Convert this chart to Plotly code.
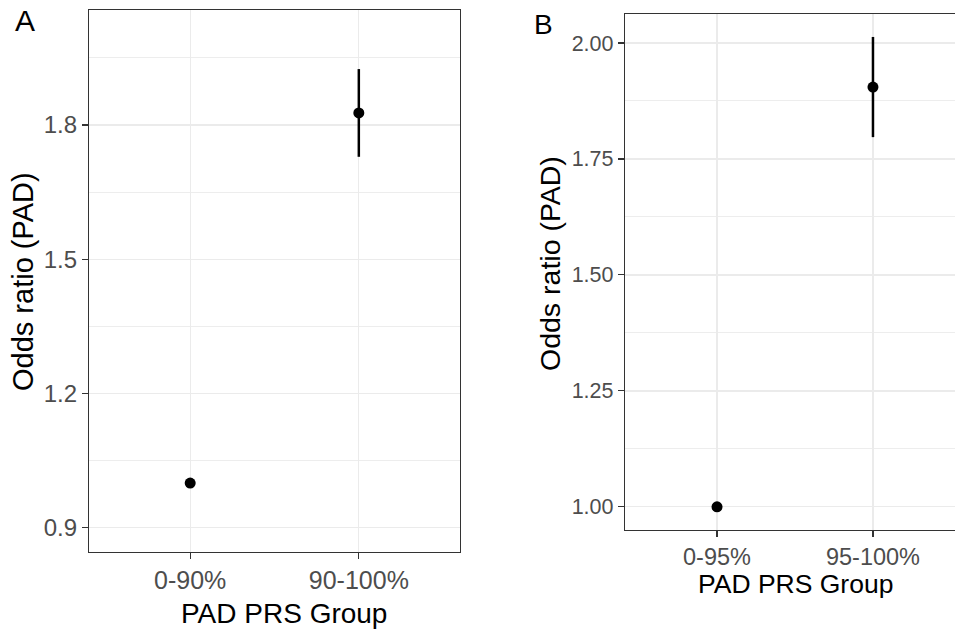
import plotly.graph_objects as go

# Panel A data
a_groups = ["0-90%", "90-100%"]
a_or = [1.0, 1.827]
a_lo = [1.0, 1.729]
a_hi = [1.0, 1.925]
a_yticks = [0.9, 1.2, 1.5, 1.8]

# Panel B data
b_groups = ["0-95%", "95-100%"]
b_or = [1.0, 1.905]
b_lo = [1.0, 1.797]
b_hi = [1.0, 2.013]
b_yticks = [1.00, 1.25, 1.50, 1.75, 2.00]

OFF = 0  # body margin removed via post_script
W, H = 955 - OFF, 632 - OFF
FONT = "Liberation Sans, Arial, Helvetica, sans-serif"
GRID = "#EBEBEB"
AXC = "#333333"
TICKC = "#4D4D4D"


def fx(x):
    return (x - OFF) / W


def fy(y):
    return 1 - (y - OFF) / H


fig = go.Figure()

fig.add_trace(go.Scatter(
    x=a_groups, y=a_or, mode="markers",
    marker=dict(color="black", size=11),
    error_y=dict(type="data", symmetric=False,
                 array=[h - o for h, o in zip(a_hi, a_or)],
                 arrayminus=[o - l for o, l in zip(a_or, a_lo)],
                 color="black", thickness=2.5, width=0),
    xaxis="x", yaxis="y", showlegend=False, hoverinfo="skip"))

fig.add_trace(go.Scatter(
    x=b_groups, y=b_or, mode="markers",
    marker=dict(color="black", size=11),
    error_y=dict(type="data", symmetric=False,
                 array=[h - o for h, o in zip(b_hi, b_or)],
                 arrayminus=[o - l for o, l in zip(b_or, b_lo)],
                 color="black", thickness=2.5, width=0),
    xaxis="x2", yaxis="y2", showlegend=False, hoverinfo="skip"))

common_x = dict(type="category", showgrid=True, gridcolor=GRID, gridwidth=1.3,
                ticks="outside", ticklen=6, tickcolor=AXC, tickwidth=1.2,
                showline=True, linecolor=AXC, linewidth=1.2, mirror=True,
                zeroline=False, fixedrange=True)

fig.update_layout(
    width=W, height=H,
    margin=dict(l=0, r=0, t=0, b=0),
    paper_bgcolor="white", plot_bgcolor="white",
    font=dict(family=FONT, color="black"),
    xaxis=dict(**common_x, domain=[fx(89), fx(460)], range=[-0.6, 1.6],
               anchor="y", tickfont=dict(size=25, color=TICKC)),
    yaxis=dict(domain=[fy(552), fy(10)], range=[0.846, 2.057],
               anchor="x", tickvals=a_yticks,
               ticktext=[f"{v:.1f}" for v in a_yticks],
               tickfont=dict(size=24, color=TICKC),
               showgrid=True, gridcolor=GRID, gridwidth=1.3,
               minor=dict(showgrid=True, gridcolor=GRID, gridwidth=0.9,
                          tickvals=[1.05, 1.35, 1.65, 1.95], ticks=""),
               ticks="outside", ticklen=6, tickcolor=AXC, tickwidth=1.2,
               showline=True, linecolor=AXC, linewidth=1.2, mirror=True,
               zeroline=False, fixedrange=True),
    xaxis2=dict(**common_x,
                domain=[fx(625), 1.0], range=[-0.59, 1.526],
                anchor="y2", tickfont=dict(size=23.5, color=TICKC)),
    yaxis2=dict(domain=[fy(530), fy(14)], range=[0.950, 2.0625],
                anchor="x2", tickvals=b_yticks,
                ticktext=[f"{v:.2f}" for v in b_yticks],
                tickfont=dict(size=21.5, color=TICKC),
                showgrid=True, gridcolor=GRID, gridwidth=1.3,
                minor=dict(showgrid=True, gridcolor=GRID, gridwidth=0.9,
                           tickvals=[1.125, 1.375, 1.625, 1.875], ticks=""),
                ticks="outside", ticklen=6, tickcolor=AXC, tickwidth=1.2,
                showline=True, linecolor=AXC, linewidth=1.2, mirror=False,
                zeroline=False, fixedrange=True),
)


def px(x, y):
    return dict(x=fx(x), y=fy(y), xref="paper", yref="paper")


annots = [
    dict(**px(25, 21), text="A", font=dict(size=30, color="black")),
    dict(**px(543, 25), text="B", font=dict(size=28, color="black")),
    dict(**px(284, 613), text="PAD PRS Group", font=dict(size=28, color="black")),
    dict(**px(795, 584), text="PAD PRS Group", font=dict(size=26.5, color="black")),
    dict(**px(23, 282), text="Odds ratio (PAD)", textangle=-90,
         font=dict(size=29, color="black")),
    dict(**px(550, 264), text="Odds ratio (PAD)", textangle=-90,
         font=dict(size=28.5, color="black")),
]
for a in annots:
    a.update(showarrow=False, xanchor="center", yanchor="middle")
    fig.add_annotation(**a)

fig.write_html(
    "out.html",
    config={"displayModeBar": False, "staticPlot": True},
    post_script="document.body.style.margin='0';document.body.style.overflow='hidden';",
)
